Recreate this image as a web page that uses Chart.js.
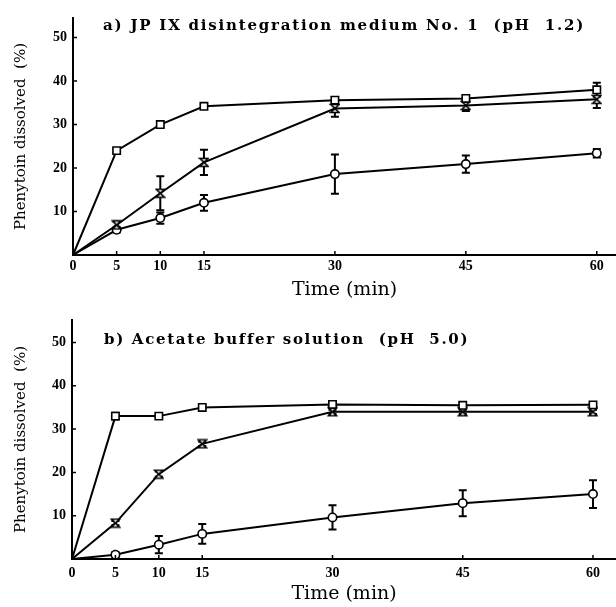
<!DOCTYPE html>
<html>
<head>
<meta charset="utf-8">
<script src="https://cdn.jsdelivr.net/npm/chart.js@4"></script>
<style>
  html, body { margin: 0; padding: 0; background: #fff; overflow: hidden; }
  #wrap { position: relative; width: 616px; height: 607px; }
  #wrap canvas { position: absolute; left: 0; }
</style>
</head>
<body>
<div id="wrap">
  <canvas id="panelA" width="616" height="300" style="top:0px"></canvas>
  <canvas id="panelB" width="616" height="307" style="top:300px"></canvas>
</div>
<script>
// Sampling times (min) and axis tick values
const times = [0, 5, 10, 15, 30, 45, 60];
const xTickValues = [0, 5, 10, 15, 30, 45, 60];
const yTickValues = [10, 20, 30, 40, 50];

// a) JP IX disintegration medium No.1 (pH 1.2) — % dissolved, mean and error
const aSquare = [0, 24.0, 30.0, 34.2, 35.6, 36.0, 38.0];
const aSquareErr = [0, 0.4, 0.4, 0.5, 0.6, 0.6, 1.6];
const aHourglass = [0, 6.9, 14.2, 21.3, 33.7, 34.4, 35.8];
const aHourglassErr = [0, 0.8, 3.9, 2.9, 1.9, 1.3, 2.0];
const aCircle = [0, 5.8, 8.5, 12.0, 18.6, 20.9, 23.4];
const aCircleErr = [0, 0.6, 1.3, 1.8, 4.5, 2.0, 1.0];

// b) Acetate buffer solution (pH 5.0)
const bSquare = [0, 33.0, 33.0, 35.0, 35.7, 35.5, 35.6];
const bSquareErr = [0, 0.8, 0.4, 0.4, 0.6, 0.6, 0.6];
const bHourglass = [0, 8.3, 19.6, 26.6, 34.0, 34.0, 34.0];
const bHourglassErr = [0, 0.5, 0.6, 0.5, 0.5, 0.5, 0.5];
const bCircle = [0, 1.0, 3.3, 5.8, 9.6, 12.9, 15.0];
const bCircleErr = [0, 0.6, 2.0, 2.3, 2.8, 3.0, 3.2];

const titleA = 'a) JP IX disintegration medium No. 1  (pH  1.2)';
const titleB = 'b) Acetate buffer solution  (pH  5.0)';

// Open hourglass marker
function hourglassMarker(size) {
  const c = document.createElement('canvas');
  c.width = c.height = size + 3;
  const g = c.getContext('2d');
  const o = 1.5, s = size;
  g.beginPath();
  g.moveTo(o, o); g.lineTo(o + s, o); g.lineTo(o, o + s); g.lineTo(o + s, o + s); g.closePath();
  g.fillStyle = '#fff'; g.fill();
  g.lineWidth = 1.6; g.strokeStyle = '#000'; g.lineJoin = 'miter'; g.stroke();
  return c;
}
const hgMarker = hourglassMarker(8);

// Vertical error bars with caps, drawn beneath the markers
const errorBars = {
  id: 'errorBars',
  beforeDatasetsDraw(chart) {
    const { ctx, scales: { x, y } } = chart;
    ctx.save();
    ctx.strokeStyle = '#000';
    ctx.lineWidth = 2;
    chart.data.datasets.forEach(ds => {
      (ds.errors || []).forEach((e, j) => {
        if (!e) return;
        const p = ds.data[j];
        const px = x.getPixelForValue(p.x);
        const yt = y.getPixelForValue(p.y + e);
        const yb = y.getPixelForValue(p.y - e);
        ctx.beginPath();
        ctx.moveTo(px, yt); ctx.lineTo(px, yb);
        ctx.moveTo(px - 4, yt); ctx.lineTo(px + 4, yt);
        ctx.moveTo(px - 4, yb); ctx.lineTo(px + 4, yb);
        ctx.stroke();
      });
    });
    ctx.restore();
  }
};

// Short inward tick marks on both axes
const innerTicks = {
  id: 'innerTicks',
  afterDraw(chart) {
    const { ctx, chartArea: a, scales: { x, y } } = chart;
    ctx.save();
    ctx.strokeStyle = '#000';
    ctx.lineWidth = 1.5;
    ctx.beginPath();
    xTickValues.forEach(v => {
      if (v === 0) return;
      const px = x.getPixelForValue(v);
      ctx.moveTo(px, a.bottom); ctx.lineTo(px, a.bottom - 4);
    });
    yTickValues.forEach(v => {
      const py = y.getPixelForValue(v);
      ctx.moveTo(a.left, py); ctx.lineTo(a.left + 4, py);
    });
    ctx.stroke();
    ctx.restore();
  }
};

// Panel heading drawn inside the plot, spread to a set width
const panelHeading = {
  id: 'panelHeading',
  afterDraw(chart, args, opts) {
    const ctx = chart.ctx;
    ctx.save();
    ctx.fillStyle = '#000';
    ctx.font = opts.font;
    ctx.textBaseline = 'alphabetic';
    const chars = Array.from(opts.text);
    const natural = ctx.measureText(opts.text).width;
    const extra = (opts.width - natural) / (chars.length - 1);
    let cx = opts.x;
    chars.forEach(ch => {
      ctx.fillText(ch, cx, opts.y);
      cx += ctx.measureText(ch).width + extra;
    });
    ctx.restore();
  }
};

function series(values, errors, style, radius) {
  return {
    data: times.map((t, i) => ({ x: t, y: values[i] })),
    errors: errors,
    borderColor: '#000',
    borderWidth: 2,
    tension: 0,
    pointStyle: style,
    pointRadius: times.map(t => (t === 0 ? 0 : radius)),
    pointBackgroundColor: '#fff',
    pointBorderColor: '#000',
    pointBorderWidth: 1.6,
    clip: false
  };
}

const tickFont = { family: 'Liberation Serif', weight: 'bold', size: 14 };

function makePanel(id, cfg) {
  new Chart(document.getElementById(id), {
    type: 'line',
    data: {
      datasets: [
        series(cfg.square, cfg.squareErr, 'rect', 5.2),
        series(cfg.hourglass, cfg.hourglassErr, hgMarker, 5),
        series(cfg.circle, cfg.circleErr, 'circle', 4.2)
      ]
    },
    options: {
      responsive: false,
      animation: false,
      devicePixelRatio: 1,
      layout: { autoPadding: false, padding: { top: cfg.padTop, left: 0, right: 0, bottom: 0 } },
      plugins: {
        legend: { display: false },
        tooltip: { enabled: false },
        panelHeading: cfg.heading
      },
      scales: {
        x: {
          type: 'linear',
          min: 0,
          max: cfg.xMax,
          afterBuildTicks: s => { s.ticks = xTickValues.map(v => ({ value: v })); },
          afterFit: s => { s.height = cfg.xHeight; s.paddingLeft = 0; s.paddingRight = 0; },
          grid: { display: false, drawTicks: false },
          border: { display: true, color: '#000', width: 2 },
          ticks: { color: '#000', font: tickFont, padding: cfg.xTickPad, maxRotation: 0, autoSkip: false },
          title: {
            display: true, text: 'Time (min)', color: '#000',
            font: { family: 'DejaVu Serif', size: 19, lineHeight: 1 },
            padding: { top: 0, bottom: cfg.xTitlePad }
          }
        },
        y: {
          min: 0,
          max: cfg.yMax,
          afterBuildTicks: s => { s.ticks = yTickValues.map(v => ({ value: v })); },
          afterFit: s => { s.width = cfg.yWidth; },
          grid: { display: false, drawTicks: false },
          border: { display: true, color: '#000', width: 2 },
          ticks: { color: '#000', font: tickFont, padding: 6 },
          title: {
            display: true, text: 'Phenytoin dissolved  (%)', color: '#000',
            font: { family: 'DejaVu Serif', size: 15, lineHeight: 1.2 },
            padding: { top: 12, bottom: 0 }
          }
        }
      }
    },
    plugins: [errorBars, innerTicks, panelHeading]
  });
}

makePanel('panelA', {
  square: aSquare, squareErr: aSquareErr,
  hourglass: aHourglass, hourglassErr: aHourglassErr,
  circle: aCircle, circleErr: aCircleErr,
  padTop: 18, xHeight: 45, yWidth: 73, xMax: 62.2, yMax: 54.5,
  xTickPad: 3, xTitlePad: 0,
  heading: { text: titleA, font: 'bold 15px "DejaVu Serif"', x: 103, y: 30, width: 480 }
});

makePanel('panelB', {
  square: bSquare, squareErr: bSquareErr,
  hourglass: bHourglass, hourglassErr: bHourglassErr,
  circle: bCircle, circleErr: bCircleErr,
  padTop: 20, xHeight: 48, yWidth: 72, xMax: 62.65, yMax: 55.2,
  xTickPad: 6, xTitlePad: 3,
  heading: { text: titleB, font: 'bold 15px "DejaVu Serif"', x: 104, y: 44, width: 363 }
});
</script>
</body>
</html>
